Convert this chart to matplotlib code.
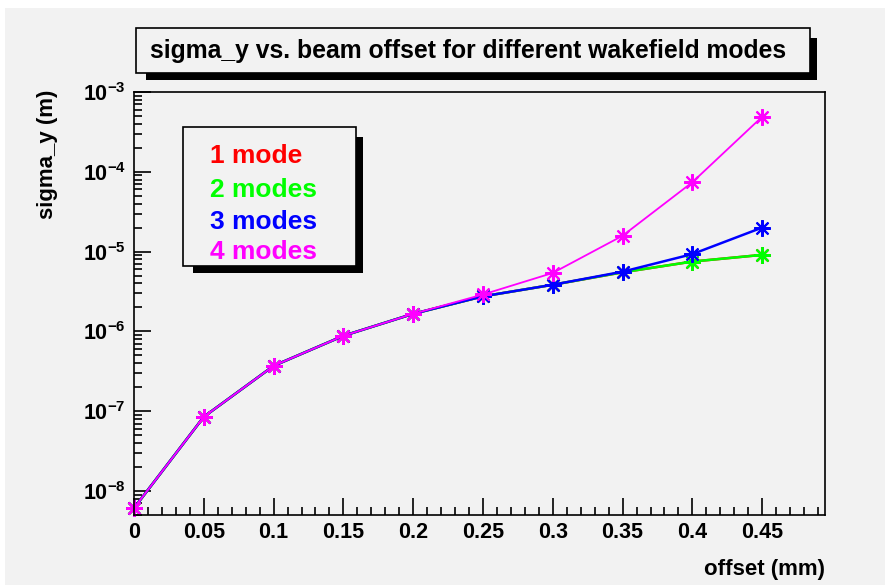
import matplotlib
matplotlib.use("Agg")
import matplotlib.pyplot as plt
from matplotlib.patches import Rectangle
from matplotlib.ticker import LogLocator, FixedLocator, MultipleLocator, NullFormatter
import numpy as np

# data
offset = [0.0, 0.05, 0.10, 0.15, 0.20, 0.25, 0.30, 0.35, 0.40, 0.45]
sigma_1mode = [6.1e-9, 8.5e-8, 3.7e-7, 8.8e-7, 1.66e-6, 2.75e-6, 3.84e-6, 5.5e-6, 7.5e-6, 9.1e-6]
sigma_2modes = [6.1e-9, 8.5e-8, 3.7e-7, 8.8e-7, 1.66e-6, 2.75e-6, 3.84e-6, 5.5e-6, 7.5e-6, 9.1e-6]
sigma_3modes = [6.1e-9, 8.5e-8, 3.7e-7, 8.8e-7, 1.66e-6, 2.75e-6, 3.84e-6, 5.6e-6, 9.3e-6, 2.0e-5]
sigma_4modes = [6.1e-9, 8.5e-8, 3.7e-7, 8.8e-7, 1.66e-6, 2.9e-6, 5.4e-6, 1.58e-5, 7.4e-5, 4.9e-4]

labels = ["1 mode", "2 modes", "3 modes", "4 modes"]
colors = ["#ff0000", "#00ff00", "#0000ff", "#ff00ff"]
widths = [1.8, 1.8, 1.8, 1.3]
xtick_labels = ["0", "0.05", "0.1", "0.15", "0.2", "0.25", "0.3", "0.35", "0.4", "0.45"]
decades = [1e-8, 1e-7, 1e-6, 1e-5, 1e-4, 1e-3]

W, H = 885, 585
BG = "#f2f2f2"
FONT = "Liberation Sans"

plt.rcParams["font.family"] = FONT
plt.rcParams["font.weight"] = "bold"
plt.rcParams["mathtext.fontset"] = "custom"
plt.rcParams["mathtext.bf"] = FONT + ":bold"
plt.rcParams["mathtext.rm"] = FONT + ":bold"


def px(x0, y0, x1, y1):
    """pixel box (top-left origin) -> figure fraction rect"""
    return (x0 / W, 1 - y1 / H), (x1 - x0) / W, (y1 - y0) / H


def rect(fig, x0, y0, x1, y1, zorder, **kw):
    (l, b), w, h = px(x0, y0, x1, y1)
    fig.patches.append(Rectangle((l, b), w, h, transform=fig.transFigure,
                                 zorder=zorder, **kw))


def pave(fig, x0, y0, x1, y1, d=7, inset=10):
    # ROOT style pave with a black drop shadow (bottom + right strips)
    rect(fig, x0 + inset, y1, x1 + d, y1 + d, 5, facecolor="black", edgecolor="none")
    rect(fig, x1, y0 + inset, x1 + d, y1 + d, 5, facecolor="black", edgecolor="none")
    rect(fig, x0, y0, x1, y1, 6, facecolor=BG, edgecolor="black", lw=1.2)


fig = plt.figure(figsize=(W / 100, H / 100), dpi=100, facecolor="white")
rect(fig, 5, 8, 885, 585, -10, facecolor=BG, edgecolor="none")

(l, b), w, h = px(134, 92, 825, 515)
ax = fig.add_axes([l, b, w, h], zorder=1)
ax.set_facecolor(BG)

for ys, c, lw in zip([sigma_1mode, sigma_2modes, sigma_3modes, sigma_4modes], colors, widths):
    ax.plot(offset, ys, color=c, lw=lw, marker=(8, 2, 0), markersize=12,
            markeredgewidth=1.5, markeredgecolor=c, clip_on=False)

ax.set_yscale("log")
ax.set_xlim(0, 0.495)
ax.set_ylim(5e-9, 1e-3)

ax.xaxis.set_major_locator(FixedLocator(offset))
ax.xaxis.set_minor_locator(MultipleLocator(0.01))
ax.set_xticklabels(xtick_labels)

ax.yaxis.set_major_locator(FixedLocator(decades))
ax.set_yticklabels([r"$\mathbf{10^{%d}}$" % int(np.log10(d)) for d in decades])
ax.yaxis.set_minor_locator(LogLocator(base=10, subs=np.arange(2, 10), numticks=20))
ax.yaxis.set_minor_formatter(NullFormatter())

ax.tick_params(which="both", direction="in", top=False, right=False, width=1.2, labelsize=15.5)
ax.tick_params(which="major", length=12)
ax.tick_params(which="minor", length=6)
ax.tick_params(axis="x", pad=5)
ax.tick_params(axis="y", pad=6)
for s in ax.spines.values():
    s.set_linewidth(1.2)

# title pave
pave(fig, 136, 28, 810, 73)
fig.text(468 / W, 1 - 51 / H, "sigma_y vs. beam offset for different wakefield modes",
         ha="center", va="center", fontsize=17.8, fontweight="bold", zorder=7)

# legend pave
pave(fig, 183, 127, 356, 266)
for lab, c, yc in zip(labels, colors, [156, 190, 222, 252]):
    fig.text(210 / W, 1 - yc / H, lab, color=c, ha="left", va="center",
             fontsize=19, fontweight="bold", zorder=7)

fig.text(48 / W, 1 - 90 / H, "sigma_y (m)", rotation=90, ha="center", va="top",
         fontsize=16, fontweight="bold")
fig.text(825 / W, 1 - 569 / H, "offset (mm)", ha="right", va="center",
         fontsize=16, fontweight="bold")

fig.savefig("out.png", dpi=100, facecolor="white")
